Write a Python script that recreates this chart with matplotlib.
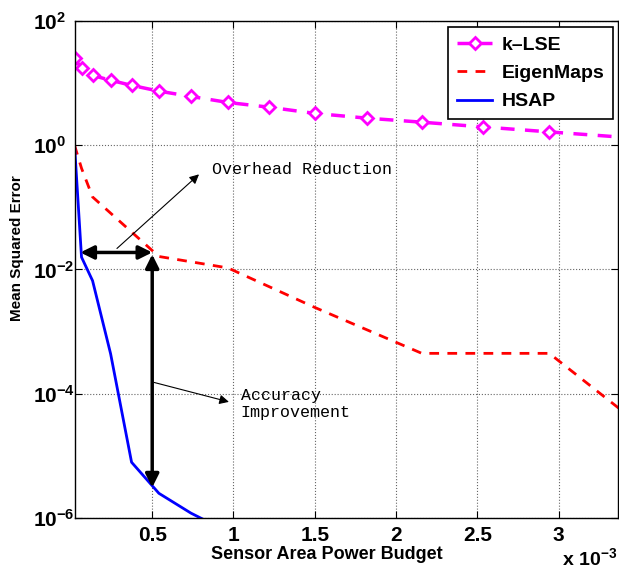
import matplotlib
matplotlib.use('Agg')
import matplotlib.pyplot as plt
import numpy as np

plt.rcParams['font.family'] = ['Liberation Sans', 'DejaVu Sans']
plt.rcParams['mathtext.fontset'] = 'custom'
plt.rcParams['mathtext.rm'] = 'Liberation Sans:bold'
plt.rcParams['mathtext.bf'] = 'Liberation Sans:bold'

# ============================================ data (x in units of 1e-3)
klse_x = [0.022, 0.065, 0.133, 0.244, 0.373, 0.541, 0.738, 0.966, 1.217,
          1.502, 1.820, 2.159, 2.536, 2.943, 3.42]
klse_y = [25.0, 17.3, 13.3, 11.1, 9.2, 7.43, 6.1, 4.88, 4.1,
          3.25, 2.73, 2.35, 1.97, 1.64, 1.33]

eig_x = [0.022, 0.065, 0.133, 0.541, 0.966, 1.502, 2.159, 2.943, 3.40]
eig_y = [1.0, 0.426, 0.147, 0.0162, 0.0106, 0.00244, 4.47e-4, 4.47e-4, 5.1e-5]

hsap_x = [0.022, 0.065, 0.133, 0.244, 0.373, 0.541, 0.738, 0.966]
hsap_y = [1.0, 0.0158, 0.0066, 4.4e-4, 7.9e-6, 2.5e-6, 1.2e-6, 6.0e-7]

xticks = [0.5, 1, 1.5, 2, 2.5, 3]
yticks = [1e-6, 1e-4, 1e-2, 1e0, 1e2]
ytick_labels = [r'$\mathbf{10^{-6}}$', r'$\mathbf{10^{-4}}$', r'$\mathbf{10^{-2}}$',
                r'$\mathbf{10^{0}}$', r'$\mathbf{10^{2}}$']

# ============================================
fig = plt.figure(figsize=(6.19, 5.70), dpi=100)
ax = fig.add_axes([0.1204, 0.0912, 0.8785, 0.8720])

ax.plot(klse_x, klse_y, color='#FF00FF', ls='--', lw=2.5, marker='D',
        markersize=6, mfc='white', mec='#FF00FF', mew=2, dashes=(4, 3),
        label='k\u2013LSE')
ax.plot(eig_x, eig_y, color='#FF0000', ls='--', lw=2, dashes=(3.5, 3),
        label='EigenMaps')
ax.plot(hsap_x, hsap_y, color='#0000FF', ls='-', lw=2, label='HSAP')

ax.set_yscale('log')
ax.set_xlim(0.022, 3.368)
ax.set_ylim(1e-6, 1e2)
ax.set_xticks(xticks)
ax.set_xticklabels([('%g' % t) for t in xticks], fontsize=15, fontweight='bold')
ax.set_yticks(yticks)
ax.set_yticklabels(ytick_labels, fontsize=15, ha='left')
ax.minorticks_off()
ax.tick_params(direction='in', top=True, right=True, length=5, width=0.8)
ax.tick_params(axis='x', pad=6)
ax.tick_params(axis='y', pad=30)
ax.grid(True, ls=':', color='0.4', lw=0.8)
for s in ax.spines.values():
    s.set_linewidth(1.0)

ax.set_xlabel('Sensor Area Power Budget', fontsize=13, fontweight='bold')
ax.xaxis.set_label_coords(0.464, -0.057)
ax.set_ylabel('Mean Squared Error', fontsize=11, fontweight='bold')
ax.yaxis.set_label_coords(-0.092, 0.543)
fig.text(0.997, 0.002, r'x $\mathbf{10^{-3}}$', ha='right', va='bottom',
         fontsize=14, fontweight='bold')

leg = ax.legend(loc='upper right', bbox_to_anchor=(0.991, 0.987),
                borderaxespad=0, fancybox=False, edgecolor='black',
                framealpha=1, handlelength=1.8, handletextpad=0.5,
                labelspacing=0.55, borderpad=0.45,
                prop={'weight': 'bold', 'size': 14})
leg.get_frame().set_linewidth(1.2)

# ============================================ annotations
big = dict(arrowstyle='<|-|>', color='black', lw=2.5, mutation_scale=20,
           shrinkA=0, shrinkB=0)
thin = dict(arrowstyle='-|>', color='black', lw=0.8, mutation_scale=14,
            shrinkA=0, shrinkB=0)
ax.annotate('', xy=(0.058, 0.0188), xytext=(0.5, 0.0188), arrowprops=big)
ax.annotate('', xy=(0.5, 0.0175), xytext=(0.5, 3.1e-6), arrowprops=big)
ax.annotate('', xy=(0.788, 0.34), xytext=(0.283, 0.0218), arrowprops=thin)
ax.annotate('', xy=(0.972, 7.4e-5), xytext=(0.512, 1.52e-4), arrowprops=thin)
ax.text(0.866, 0.405, 'Overhead Reduction', family='Liberation Mono',
        fontsize=12, va='center', ha='left')
ax.text(1.044, 6.9e-5, 'Accuracy\nImprovement', family='Liberation Mono',
        fontsize=12, va='center', ha='left', linespacing=1.15)

plt.savefig('out.png', dpi=100)
